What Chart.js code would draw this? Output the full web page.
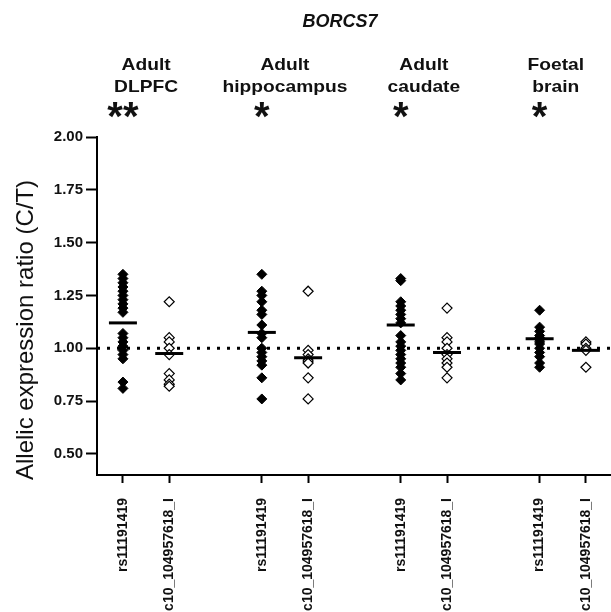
<!DOCTYPE html>
<html>
<head>
<meta charset="utf-8">
<script src="https://cdn.jsdelivr.net/npm/chart.js@4"></script>
<style>
  html, body { margin: 0; padding: 0; background: #fff; overflow: hidden; }
  #wrap { width: 611px; height: 612px; position: relative; }
  canvas { display: block; }
</style>
</head>
<body>
<div id="wrap"><canvas id="c"></canvas></div>
<script>
// Tissue groups, each with two SNP columns
const geneName = 'BORCS7';
const yAxisTitle = 'Allelic expression ratio (C/T)';
const tissues = [['Adult', 'DLPFC'], ['Adult', 'hippocampus'], ['Adult', 'caudate'], ['Foetal', 'brain']];
const tissueLabelCentres = [0.5, 3.5, 6.5, 9.35];
const significance = ['**', '*', '*', '*'];
const snpLabels = ['rs11191419', 'c10_104957618_I'];
const columnPositions = [0, 1, 3, 4, 6, 7, 9, 10];
const yTicks = [0.50, 0.75, 1.00, 1.25, 1.50, 1.75, 2.00];
const referenceRatio = 1.0;

// Allelic expression ratios (C/T) per sample
const rsValues = [
  [1.35, 1.33, 1.31, 1.29, 1.27, 1.25, 1.23, 1.21, 1.19, 1.17, 1.07, 1.05, 1.03, 1.01, 0.99, 0.97, 0.95, 0.84, 0.81],
  [1.35, 1.27, 1.25, 1.22, 1.18, 1.16, 1.11, 1.07, 1.05, 1.00, 0.98, 0.96, 0.94, 0.92, 0.86, 0.76],
  [1.33, 1.32, 1.22, 1.20, 1.18, 1.16, 1.14, 1.12, 1.06, 1.03, 1.01, 0.99, 0.97, 0.95, 0.93, 0.91, 0.88, 0.85],
  [1.18, 1.10, 1.08, 1.06, 1.05, 1.04, 1.03, 1.02, 1.00, 0.98, 0.96, 0.93, 0.91]
];
const c10Values = [
  [1.22, 1.05, 1.03, 1.00, 0.97, 0.88, 0.85, 0.83, 0.82],
  [1.27, 0.99, 0.97, 0.95, 0.94, 0.93, 0.86, 0.76],
  [1.19, 1.05, 1.03, 1.00, 0.97, 0.95, 0.93, 0.91, 0.86],
  [1.03, 1.02, 1.00, 0.99, 0.91]
];
const rsMeans = [1.12, 1.075, 1.11, 1.045];
const c10Means = [0.975, 0.955, 0.98, 0.99];

const FONT = '"Liberation Sans", Arial, sans-serif';

const rsPoints = [], c10Points = [], meanPoints = [];
tissues.forEach((t, i) => {
  const xr = columnPositions[2 * i], xc = columnPositions[2 * i + 1];
  rsValues[i].forEach(v => rsPoints.push({ x: xr, y: v }));
  c10Values[i].forEach(v => c10Points.push({ x: xc, y: v }));
  meanPoints.push({ x: xr, y: rsMeans[i] });
  meanPoints.push({ x: xc, y: c10Means[i] });
});

const X_MIN = -0.56, X_MAX = 10.52;

// Text drawn slightly wider than the font's natural width
function wideText(ctx, text, x, y, stretch) {
  ctx.save();
  ctx.translate(x, y);
  ctx.scale(stretch, 1);
  ctx.fillText(text, 0, 0);
  ctx.restore();
}

// Title, tissue names, significance stars and the y-axis caption
const headerPlugin = {
  id: 'header',
  afterDraw(chart) {
    const ctx = chart.ctx, xs = chart.scales.x;
    ctx.save();
    ctx.fillStyle = '#111';
    ctx.textAlign = 'center';
    ctx.textBaseline = 'middle';
    ctx.font = 'italic bold 18px ' + FONT;
    ctx.fillText(geneName, 340, 22);

    ctx.textBaseline = 'alphabetic';
    ctx.font = 'bold 17px ' + FONT;
    tissues.forEach((t, i) => {
      const cx = xs.getPixelForValue(tissueLabelCentres[i]);
      wideText(ctx, t[0], cx, 70, 1.13);
      wideText(ctx, t[1], cx, 92, 1.13);
    });

    ctx.textBaseline = 'middle';
    ctx.font = 'bold 40px ' + FONT;
    significance.forEach((s, i) => {
      const cx = xs.getPixelForValue(columnPositions[2 * i]);
      ctx.fillText(s, cx, 119);
    });

    ctx.font = '24px ' + FONT;
    ctx.textBaseline = 'alphabetic';
    ctx.translate(33, 330);
    ctx.rotate(-Math.PI / 2);
    ctx.fillText(yAxisTitle, 0, 0);
    ctx.restore();
  }
};

new Chart(document.getElementById('c'), {
  type: 'scatter',
  data: {
    datasets: [
      {
        label: 'mean',
        data: meanPoints,
        pointStyle: 'line',
        pointRadius: 14,
        pointBorderWidth: 3,
        borderColor: '#000',
        backgroundColor: '#000',
        order: 0
      },
      {
        label: snpLabels[0],
        data: rsPoints,
        pointStyle: 'rectRot',
        pointRadius: 5,
        pointBorderWidth: 1,
        borderColor: '#000',
        backgroundColor: '#000',
        order: 1
      },
      {
        label: snpLabels[1],
        data: c10Points,
        pointStyle: 'rectRot',
        pointRadius: 5,
        pointBorderWidth: 1.2,
        borderColor: '#000',
        backgroundColor: '#fff',
        order: 2
      },
      {
        type: 'line',
        label: 'reference',
        data: [{ x: X_MIN, y: referenceRatio }, { x: X_MAX, y: referenceRatio }],
        borderColor: '#000',
        borderWidth: 3,
        borderDash: [3, 7],
        pointRadius: 0,
        fill: false,
        order: 3
      }
    ]
  },
  options: {
    responsive: true,
    maintainAspectRatio: false,
    animation: false,
    layout: { autoPadding: false, padding: { top: 137, left: 0, right: 1, bottom: 0 } },
    plugins: { legend: { display: false }, tooltip: { enabled: false } },
    scales: {
      x: {
        type: 'linear',
        min: X_MIN,
        max: X_MAX,
        afterBuildTicks(scale) { scale.ticks = columnPositions.map(v => ({ value: v })); },
        afterFit(scale) {
          scale.height = 137;
          scale.paddingLeft = 0;
          scale.paddingRight = 0;
        },
        border: { display: true, color: '#000', width: 2 },
        grid: { display: true, drawOnChartArea: false, drawTicks: true, tickLength: 8, tickWidth: 2, tickColor: '#000' },
        ticks: {
          autoSkip: false,
          minRotation: 90,
          maxRotation: 90,
          padding: 15,
          color: '#111',
          font: { family: FONT, size: 14, weight: 'bold' },
          callback(v) {
            const idx = columnPositions.indexOf(v);
            return idx < 0 ? '' : snpLabels[idx % 2];
          }
        }
      },
      y: {
        min: 0.4,
        max: 2.0,
        afterBuildTicks(scale) { scale.ticks = yTicks.map(v => ({ value: v })); },
        afterFit(scale) {
          scale.width = 97;
          scale.paddingTop = 0;
          scale.paddingBottom = 0;
        },
        border: { display: true, color: '#000', width: 2 },
        grid: { display: true, drawOnChartArea: false, drawTicks: true, tickLength: 11, tickWidth: 2, tickColor: '#000' },
        ticks: {
          padding: 3,
          color: '#111',
          font: { family: FONT, size: 15, weight: 'bold' },
          callback(v) { return v.toFixed(2); }
        }
      }
    }
  },
  plugins: [headerPlugin]
});
</script>
</body>
</html>
